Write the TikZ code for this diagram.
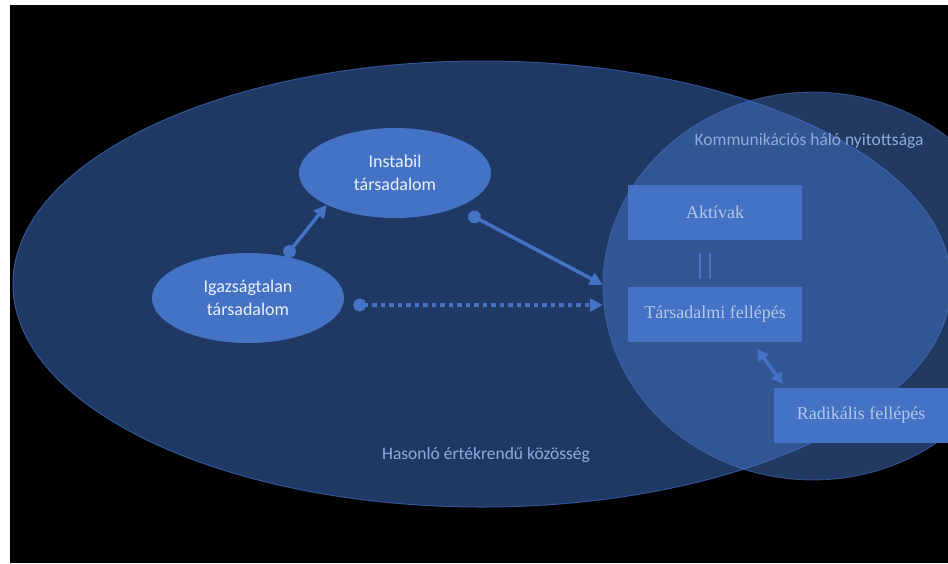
\documentclass[tikz,border=0pt]{standalone}
\usepackage{fontspec}
\setmainfont{Liberation Serif}
\newfontfamily\calib{Carlito}
\usetikzlibrary{arrows.meta,shapes.geometric,calc}
\definecolor{cblue}{HTML}{4472C4}
\definecolor{navy}{HTML}{203864}
\definecolor{navyline}{HTML}{2F5597}
\definecolor{lbltxt}{HTML}{8FAADC}
\definecolor{boxtxt}{HTML}{B4C7E7}
\begin{document}
\begin{tikzpicture}[x=1pt,y=-1pt,
  oval/.style={ellipse, fill=cblue, minimum width=192pt, minimum height=90pt, inner sep=0pt,
    text=white!90!cblue, font=\calib\fontsize{18}{23}\selectfont, align=center},
  boxn/.style={rectangle, fill=cblue, minimum width=174pt, minimum height=55pt, inner sep=0pt,
    text=boxtxt, font=\fontsize{18}{22}\selectfont},
  lbl/.style={text=lbltxt, font=\calib\fontsize{17.5}{21}\selectfont, inner sep=0pt},
  conn/.style={draw=cblue, line width=3.5pt, {Circle[length=13pt]}-{Triangle[length=13pt,width=13pt]}},
  dotconn/.style={conn, line width=4.5pt, dash pattern=on 4.5pt off 4pt},
  dblconn/.style={draw=cblue, line width=3.5pt, {Triangle[length=11pt,width=12pt]}-{Triangle[length=11pt,width=12pt]}},
  eqline/.style={draw=cblue, line width=1.5pt}
]
\useasboundingbox (0,0) rectangle (948,563);
\fill[white] (0,0) rectangle (948,563);
\fill[black] (10,5) rectangle (948,563);
\begin{scope}
\clip (10,5) rectangle (948,563);
% big ellipse
\filldraw[fill=navy, draw=navyline, line width=1pt] (482,284) ellipse [x radius=469pt, y radius=223pt];
% circle
\filldraw[fill=cblue, fill opacity=0.5, draw=cblue, draw opacity=0.6, line width=0.8pt] (813,286) ellipse [x radius=210pt, y radius=194pt];
% labels
\node[lbl] (komm) at (809,141) {Kommunikációs háló nyitottsága};
\node[lbl] (has) at (486,455) {Hasonló értékrendű közösség};
% ovals
\node[oval] (inst) at (395,173) {Instabil\\társadalom};
\node[oval] (igaz) at (248,298) {Igazságtalan\\társadalom};
% boxes
\node[boxn] (akt) at (715,212.5) {Aktívak};
\node[boxn] (tars) at (715,314.5) {Társadalmi fellépés};
\node[boxn] (rad) at (861,415.5) {Radikális fellépés};
% connectors
\draw[conn] (igaz.48) -- (inst.205);
\draw[conn] ($(inst.-28)+(10,7)$) -- ($(tars.north west)+(-25,-2)$);
\draw[dotconn] ($(igaz.east)+(9,7)$) -- ($(tars.west)+(-25,-9.5)$);
\draw[eqline] ($(akt.south)+(-15,13)$) -- ($(tars.north)+(-15,-8)$);
\draw[eqline] ($(akt.south)+(-5,13)$) -- ($(tars.north)+(-5,-8)$);
\draw[dblconn] ($(tars.south east)+(-45,7)$) -- ($(rad.north west)+(9,-4)$);
\end{scope}
\end{tikzpicture}
\end{document}
